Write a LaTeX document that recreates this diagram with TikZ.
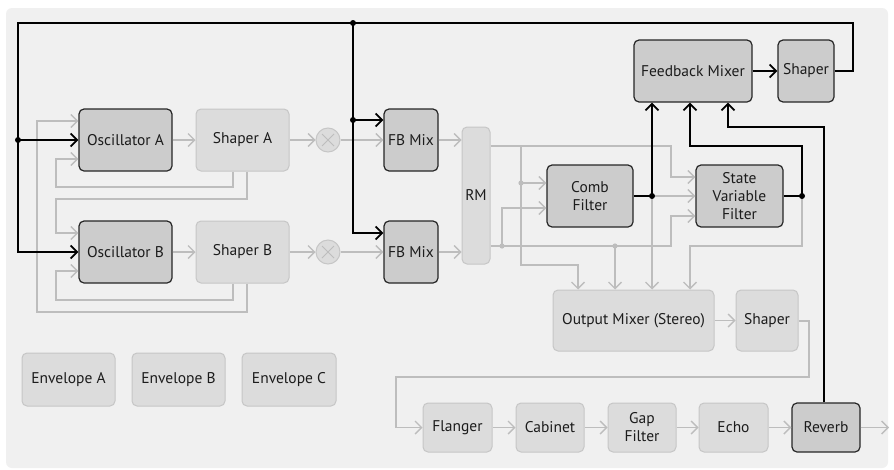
\documentclass[tikz,border=0pt]{standalone}
\usepackage{fontspec}
\setmainfont{PT Sans}
\usetikzlibrary{arrows.meta}
\definecolor{bg}{HTML}{F0F0F0}
\definecolor{lg}{HTML}{BDBDBD}
\definecolor{dkfill}{HTML}{CCCCCC}
\definecolor{ltfill}{HTML}{DCDCDC}
\definecolor{ltborder}{HTML}{C6C6C6}
\definecolor{txt}{HTML}{1C1C1C}
\begin{document}
\begin{tikzpicture}[x=1pt,y=-1pt,
  font=\fontsize{15.5}{18}\selectfont,
  box/.style={rounded corners=5pt, align=center, text=txt, inner sep=0pt},
  dk/.style={box, fill=dkfill, draw=black!85, line width=1.2pt},
  lt/.style={box, fill=ltfill, draw=ltborder, line width=1pt},
  gl/.style={draw=lg, line width=1.4pt},
  ga/.style={gl, -{Straight Barb[length=6.5pt,width=13pt]}},
  bl/.style={draw=black, line width=1.8pt},
  ba/.style={bl, -{Straight Barb[length=6.5pt,width=13pt]}},
  bdot/.style={fill=black},
  gdot/.style={fill=lg}]
\useasboundingbox (0,0) rectangle (894,469);
\fill[white] (0,0) rectangle (894,469);
\fill[bg, rounded corners=6pt] (6,8) rectangle (888,468);

% nodes
\node[dk, minimum width=93pt, minimum height=62pt] (OscA) at (125.5,140) {Oscillator A};
\node[lt, minimum width=93pt, minimum height=62pt] (ShA) at (242.5,140) {Shaper A};
\node[dk, minimum width=93pt, minimum height=62pt] (OscB) at (125.5,252) {Oscillator B};
\node[lt, minimum width=93pt, minimum height=62pt] (ShB) at (242.5,252) {Shaper B};
\node[circle, fill=ltfill, draw=ltborder, line width=1pt, minimum size=24pt, inner sep=0pt] (mulA) at (328,140) {};
\node[circle, fill=ltfill, draw=ltborder, line width=1pt, minimum size=24pt, inner sep=0pt] (mulB) at (328,252) {};
\draw[lg, line width=1pt] (322,134) -- (334,146) (322,146) -- (334,134);
\draw[lg, line width=1pt] (322,246) -- (334,258) (322,258) -- (334,246);
\node[dk, minimum width=54pt, minimum height=62pt] (FBA) at (411,140) {FB Mix};
\node[dk, minimum width=54pt, minimum height=62pt] (FBB) at (411,252) {FB Mix};
\node[lt, minimum width=28pt, minimum height=137pt] (RM) at (476,195.5) {RM};
\node[dk, minimum width=86pt, minimum height=62pt] (Comb) at (590,196) {Comb\\Filter};
\node[dk, minimum width=87pt, minimum height=62pt] (SVF) at (739.5,196) {State\\Variable\\Filter};
\node[dk, minimum width=118pt, minimum height=62pt] (FBMix) at (693,71) {Feedback Mixer};
\node[dk, minimum width=56pt, minimum height=62pt] (ShFB) at (806,71) {Shaper};
\node[lt, minimum width=161pt, minimum height=61pt] (Out) at (633.5,320.5) {Output Mixer (Stereo)};
\node[lt, minimum width=62pt, minimum height=61pt] (ShOut) at (767,320.5) {Shaper};
\node[lt, minimum width=69pt, minimum height=49pt] (Fl) at (457.5,427.5) {Flanger};
\node[lt, minimum width=68pt, minimum height=49pt] (Cab) at (550,427.5) {Cabinet};
\node[lt, minimum width=68pt, minimum height=49pt] (Gap) at (642,427.5) {Gap\\Filter};
\node[lt, minimum width=69pt, minimum height=49pt] (Echo) at (733.5,427.5) {Echo};
\node[dk, minimum width=68pt, minimum height=49pt] (Rev) at (826,427.5) {Reverb};
\node[lt, minimum width=93pt, minimum height=53pt] (EnvA) at (68.5,379.5) {Envelope A};
\node[lt, minimum width=93pt, minimum height=53pt] (EnvB) at (178.5,379.5) {Envelope B};
\node[lt, minimum width=94pt, minimum height=53pt] (EnvC) at (289,379.5) {Envelope C};
\coordinate (outend) at (889,427.5);

% gray connectors
\draw[ga] (OscA) -- (ShA);
\draw[ga] (ShA) -- (mulA);
\draw[ga] (mulA) -- (FBA);
\draw[ga] (FBA.east) -- (FBA.east -| RM.west);
\draw[ga] (OscB) -- (ShB);
\draw[ga] (ShB) -- (mulB);
\draw[ga] (mulB) -- (FBB);
\draw[ga] (FBB.east) -- (FBB.east -| RM.west);
\draw[ga] (ShA.south -| 233,0) -- (233,187) -- (56,187) -- (56,159) -- (OscA.west |- 0,159);
\draw[ga] (ShA.south -| 247,0) -- (247,199) -- (56,199) -- (56,233) -- (OscB.west |- 0,233);
\draw[ga] (ShB.south -| 233,0) -- (233,300) -- (56,300) -- (56,271) -- (OscB.west |- 0,271);
\draw[ga] (ShB.south -| 247,0) -- (247,312) -- (37,312) -- (37,121) -- (OscA.west |- 0,121);

\draw[ga] (RM.east |- 0,146) -- (671,146) -- (671,177) -- (SVF.west |- 0,177);
\draw[ga] (521,146) -- (521,265) -- (578,265) -- (Out.north -| 578,0);
\draw[ga] (521,183) -- (Comb.west |- 0,183);
\draw[ga] (RM.east |- 0,246) -- (671,246) -- (671,216) -- (SVF.west |- 0,216);
\draw[ga] (502,246) -- (502,208) -- (Comb.west |- 0,208);
\draw[ga] (615,246) -- (Out.north -| 615,0);
\fill[gdot] (521,183) circle (2.6pt);
\fill[gdot] (502,246) circle (2.6pt);
\fill[gdot] (615,246) circle (2.6pt);

\draw[ga] (652,196) -- (SVF.west |- 0,196);
\draw[ga] (652,196) -- (Out.north -| 652,0);
\draw[ga] (802,196) -- (802,246) -- (690,246) -- (Out.north -| 690,0);

\draw[ga] (Out) -- (ShOut);
\draw[ga] (ShOut.east |- 0,321) -- (809,321) -- (809,377) -- (396,377) -- (396,427.5) -- (Fl.west);
\draw[ga] (Fl) -- (Cab);
\draw[ga] (Cab) -- (Gap);
\draw[ga] (Gap) -- (Echo);
\draw[ga] (Echo) -- (Rev);
\draw[ga] (Rev.east) -- (outend);

% black connectors
\draw[bl] (Comb.east) -- (652,196);
\draw[ba] (652,196) -- (FBMix.south -| 652,0);
\draw[bl] (SVF.east) -- (802,196);
\draw[ba] (802,196) -- (802,146) -- (690,146) -- (FBMix.south -| 690,0);
\draw[ba] (Rev.north -| 824,0) -- (824,127) -- (728,127) -- (FBMix.south -| 728,0);
\draw[ba] (FBMix) -- (ShFB);
\draw[ba] (ShFB.east) -- (853,71) -- (853,23) -- (18,23) -- (18,252) -- (OscB.west);
\draw[ba] (18,140) -- (OscA.west);
\draw[ba] (353,23) -- (353,233) -- (FBB.west |- 0,233);
\draw[ba] (353,120) -- (FBA.west |- 0,120);
\fill[bdot] (18,140) circle (3pt);
\fill[bdot] (353,23) circle (3pt);
\fill[bdot] (353,120) circle (3pt);
\fill[bdot] (652,196) circle (3pt);
\fill[bdot] (802,196) circle (3pt);
\end{tikzpicture}
\end{document}
